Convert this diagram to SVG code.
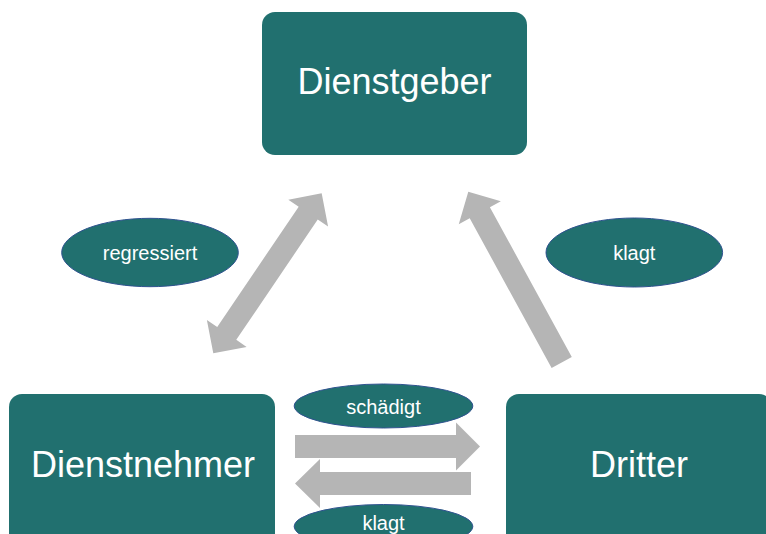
<svg xmlns="http://www.w3.org/2000/svg" width="766" height="534" viewBox="0 0 766 534">
  <defs>
    <style>
      .box { fill: #21706F; }
      .ell { fill: #21706F; stroke: #2F528F; stroke-width: 1; }
      .arrow { fill: #B5B5B5; }
      .big { font-family: "Liberation Sans", Arial, sans-serif; font-size: 36px; fill: #FFFFFF; text-anchor: middle; }
      .small { font-family: "Liberation Sans", Arial, sans-serif; font-size: 20px; fill: #FFFFFF; text-anchor: middle; }
    </style>
  </defs>
  <rect width="766" height="534" fill="#FFFFFF"/>
  <g id="connectors">
    <path class="arrow" transform="translate(213.3,353.3) rotate(-55.9)" d="M0,0 L24,-24 L24,-11.5 L169.3,-11.5 L169.3,-24 L193.3,0 L169.3,24 L169.3,11.5 L24,11.5 L24,24 Z"/>
    <path class="arrow" transform="translate(561.7,362.5) rotate(-118.67)" d="M0,-11.5 L170.7,-11.5 L170.7,-24 L194.7,0 L170.7,24 L170.7,11.5 L0,11.5 Z"/>
    <path class="arrow" d="M295,435 L456,435 L456,422.5 L480,446.5 L456,470.5 L456,458 L295,458 Z"/>
    <path class="arrow" d="M471,472 L320,472 L320,459 L295,483.5 L320,508 L320,495 L471,495 Z"/>
  </g>
  <g id="dienstgeber">
    <rect class="box" x="262" y="12" width="265" height="143" rx="13" ry="13"/>
    <text class="big" x="394.5" y="94">Dienstgeber</text>
  </g>
  <g id="dienstnehmer">
    <rect class="box" x="9" y="394" width="266" height="160" rx="13" ry="13"/>
    <text class="big" x="143" y="477">Dienstnehmer</text>
  </g>
  <g id="dritter">
    <rect class="box" x="506" y="394" width="266" height="160" rx="13" ry="13"/>
    <text class="big" x="639" y="477">Dritter</text>
  </g>
  <g id="label-regressiert">
    <ellipse class="ell" cx="150" cy="252.5" rx="88.3" ry="34.2"/>
    <text class="small" x="150" y="260">regressiert</text>
  </g>
  <g id="label-klagt-dienstgeber">
    <ellipse class="ell" cx="634.3" cy="252.5" rx="88.3" ry="34.5"/>
    <text class="small" x="634.3" y="260">klagt</text>
  </g>
  <g id="label-schaedigt">
    <ellipse class="ell" cx="383.5" cy="406" rx="89.3" ry="22"/>
    <text class="small" x="383.5" y="414">schädigt</text>
  </g>
  <g id="label-klagt-dienstnehmer">
    <ellipse class="ell" cx="383.5" cy="526.5" rx="89.3" ry="22"/>
    <text class="small" x="383.5" y="530">klagt</text>
  </g>
</svg>
